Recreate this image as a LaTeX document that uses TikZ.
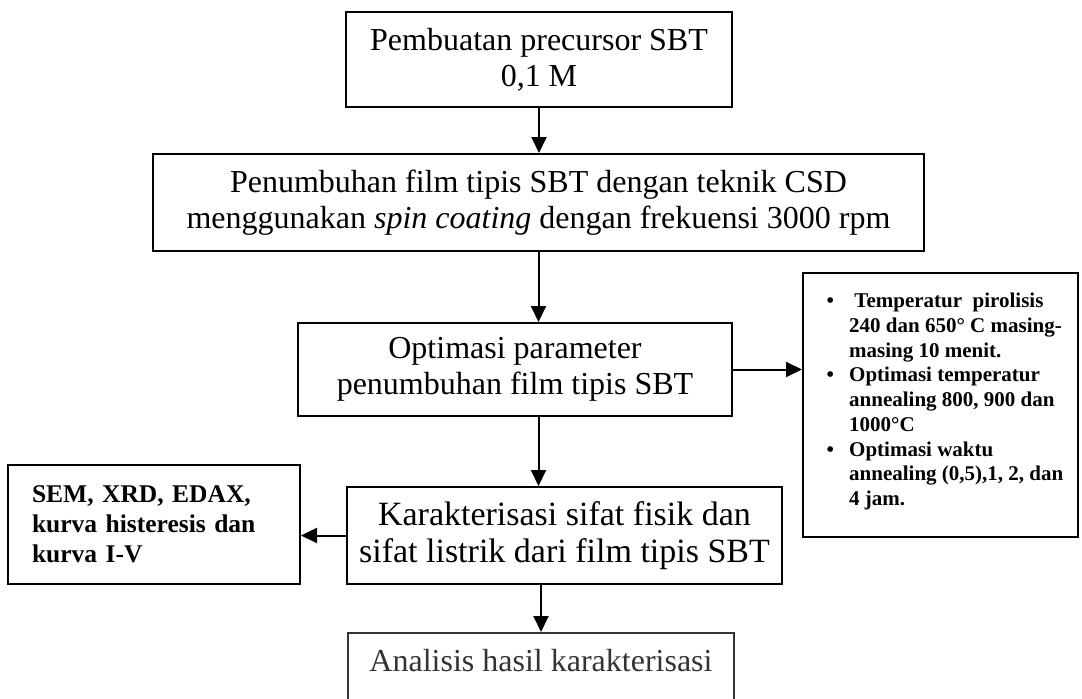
\documentclass[tikz,border=0pt]{standalone}
\usepackage{fontspec}
\setmainfont{Liberation Serif}
\usetikzlibrary{arrows.meta}
\begin{document}
\begin{tikzpicture}[x=1pt,y=-1pt,
  box/.style={draw, line width=2pt, align=center, inner sep=0pt, font=\fontsize{32}{36}\selectfont},
  sidebox/.style={draw, line width=2pt, inner sep=0pt},
  arr/.style={line width=2pt, -{Triangle[length=16pt,width=15pt]}}]
\useasboundingbox (0,0) rectangle (1082,699);
\clip (0,0) rectangle (1082,699);
\fill[white] (0,0) rectangle (1082,699);

\node[box, minimum width=386pt, minimum height=95pt] (b1) at (539,59.5) {Pembuatan precursor SBT\\0,1 M};
\node[box, minimum width=771pt, minimum height=97pt] (b2) at (538.5,202.5) {Penumbuhan film tipis SBT dengan teknik CSD\\menggunakan \textit{spin coating} dengan frekuensi 3000 rpm};
\node[box, minimum width=434pt, minimum height=93pt] (b3) at (515,369.5) {Optimasi parameter\\penumbuhan film tipis SBT};
\node[box, minimum width=435pt, minimum height=97pt, font=\fontsize{34}{37}\selectfont] (b4) at (564.5,535.5) {Karakterisasi sifat fisik dan\\sifat listrik dari film tipis SBT};
\node[box, anchor=north, minimum width=386pt, inner ysep=16pt, text height=22pt, text depth=40pt, text=black!80, draw=black!80] (b5) at (541,632) {Analisis hasil karakterisasi};

% right box
\node[sidebox, minimum width=275pt, minimum height=264pt] (b6) at (940.5,405) {};
\node[anchor=north west, inner sep=0pt, font=\bfseries\fontsize{21}{24.75}\selectfont] (b6t) at (826.5,290) {%
\begin{tabular}{@{}l@{}l@{}}
\makebox[22.5pt][l]{\textbullet} & \ Temperatur\ \ pirolisis\\
 & 240 dan 650° C masing-\\
 & masing 10 menit.\\
\makebox[22.5pt][l]{\textbullet} & Optimasi temperatur\\
 & annealing 800, 900 dan\\
 & 1000°C\\
\makebox[22.5pt][l]{\textbullet} & Optimasi waktu\\
 & annealing (0,5),1, 2, dan\\
 & 4 jam.
\end{tabular}};

% left box
\node[sidebox, minimum width=292pt, minimum height=119pt, text width=244pt, inner xsep=24pt, inner ysep=0pt, align=left, font=\bfseries\fontsize{25.5}{30}\selectfont] (b7) at (154,524.5) {SEM, XRD, EDAX,\\kurva histeresis dan\\kurva I-V};

\draw[arr] (b1.south) -- (b1.south |- b2.north);
\draw[arr] (b2.south) -- (b2.south |- b3.north);
\draw[arr] (b3.south -| b2.south) -- (b2.south |- b4.north);
\draw[arr] (b4.south -| b5.north) -- (b5.north);
\draw[arr] (b3.east) -- (b3.east -| b6.west);
\draw[arr] (b4.west) -- (b4.west -| b7.east);
\end{tikzpicture}
\end{document}
